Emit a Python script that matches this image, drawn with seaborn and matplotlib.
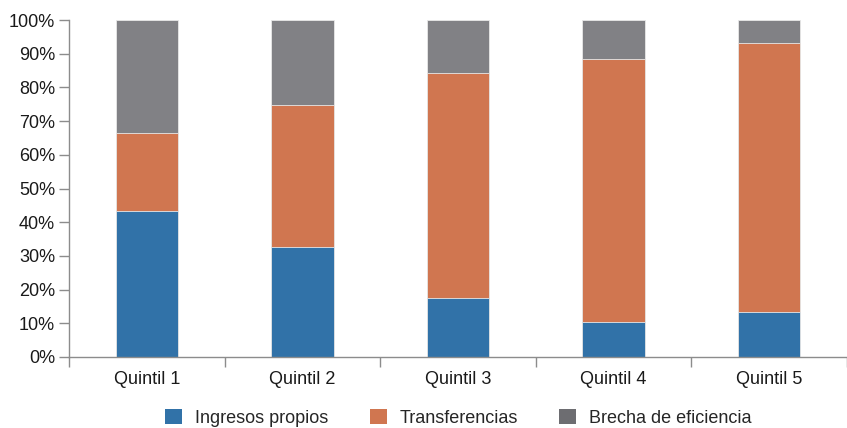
import matplotlib
matplotlib.use("Agg")
import matplotlib.pyplot as plt
import seaborn as sns
import numpy as np
import pandas as pd
from matplotlib.patches import Patch
from matplotlib.ticker import FixedLocator

categories = ["Quintil 1", "Quintil 2", "Quintil 3", "Quintil 4", "Quintil 5"]
ingresos_propios = [43.3, 32.6, 17.5, 10.4, 13.3]
transferencias = [23.3, 42.2, 66.7, 78.2, 79.8]
brecha = [33.4, 25.2, 15.8, 11.4, 6.9]
series_names = ["Ingresos propios", "Transferencias", "Brecha de eficiencia"]
colors = ["#3172A8", "#D07650", "#818185"]
legend_colors = ["#3172A8", "#D07650", "#6d6d71"]
yticks = [0, 10, 20, 30, 40, 50, 60, 70, 80, 90, 100]

sns.set_theme(style="white")
plt.rcParams['font.family'] = ['Liberation Sans', 'DejaVu Sans']

fig = plt.figure(figsize=(8.47, 4.28), dpi=100)
ax = fig.add_axes([0.0815, 0.166, 0.9185, 0.787])

vals = np.array([ingresos_propios, transferencias, brecha])
cum = np.cumsum(vals, axis=0)

# draw from top layer down so lower layers overlay
for i in range(2, -1, -1):
    df = pd.DataFrame({"cat": categories, "val": cum[i]})
    sns.barplot(data=df, x="cat", y="val", color=colors[i], width=0.4,
                edgecolor="#e8e8e8", linewidth=0.6, ax=ax, saturation=1)

ax.set_xlim(-0.5, 4.5)
ax.set_ylim(0, 100)
ax.set_yticks(yticks)
ax.set_yticklabels([f"{t}%" for t in yticks])
ax.set_xlabel("")
ax.set_ylabel("")

for s in ["top", "right"]:
    ax.spines[s].set_visible(False)
for s in ["left", "bottom"]:
    ax.spines[s].set_color("#8c8c8c")
    ax.spines[s].set_linewidth(1.0)

ax.tick_params(axis="y", which="major", left=True, length=7, width=1, color="#8c8c8c",
               labelsize=13, labelcolor="#1a1a1a", pad=3)
ax.tick_params(axis="x", which="major", bottom=False, labelsize=13, labelcolor="#1a1a1a", pad=4)
ax.xaxis.set_minor_locator(FixedLocator([-0.5, 0.5, 1.5, 2.5, 3.5, 4.5]))
ax.tick_params(axis="x", which="minor", bottom=True, length=7, width=1, color="#8c8c8c")

handles = [Patch(facecolor=c, edgecolor="none") for c in legend_colors]
fig.legend(handles, series_names, loc="center", bbox_to_anchor=(0.541, 0.024),
           ncol=3, frameon=False, fontsize=13, handlelength=0.95, handleheight=0.95,
           columnspacing=2.3, handletextpad=0.7, borderpad=0)

fig.savefig("out.png", dpi=100)
